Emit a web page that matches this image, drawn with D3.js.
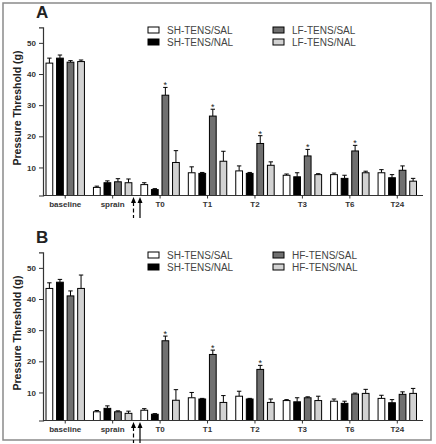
<!DOCTYPE html>
<html>
<head>
<meta charset="utf-8">
<script src="https://cdn.jsdelivr.net/npm/d3@7"></script>
<style>
  body { margin: 0; background: #fff; }
  text { font-family: Arial, "Liberation Sans", sans-serif; }
  .tick text, .cat { font-weight: bold; font-size: 8px; fill: #333; }
  .legend text { font-family: "Liberation Sans Narrow", "Arial Narrow", sans-serif; font-size: 10px; fill: #444; }
</style>
</head>
<body>
<div id="chart-area"></div>
<script>

// Chart data
var categories = ["baseline", "sprain", "T0", "T1", "T2", "T3", "T6", "T24"];
var yTicks = [10, 20, 30, 40, 50];

var seriesA = ["SH-TENS/SAL", "SH-TENS/NAL", "LF-TENS/SAL", "LF-TENS/NAL"];
var seriesB = ["SH-TENS/SAL", "SH-TENS/NAL", "HF-TENS/SAL", "HF-TENS/NAL"];
var fills = ["#ffffff", "#000000", "#707070", "#d2d2d2"];

// Panel A means and errors (one array per series)
var a_shSal = [43.5, 3.6, 4.5, 8.3, 8.9, 7.5, 7.7, 8.3];
var a_shNal = [45.1, 5.1, 2.9, 8.1, 8.1, 7.0, 6.5, 6.7];
var a_lfSal = [43.8, 5.4, 33.2, 26.5, 17.7, 13.7, 15.3, 9.1];
var a_lfNal = [44.0, 5.1, 11.6, 12.0, 10.7, 7.7, 8.3, 5.6];
var a_err_shSal = [1.6, 0.4, 0.6, 1.9, 1.6, 0.4, 0.5, 1.0];
var a_err_shNal = [1.0, 0.6, 0.3, 0.3, 0.3, 1.3, 1.0, 1.0];
var a_err_lfSal = [0.5, 1.0, 2.5, 2.2, 2.5, 2.1, 1.8, 1.4];
var a_err_lfNal = [0.5, 1.2, 3.8, 3.2, 1.1, 0.3, 0.5, 0.9];
var a_stars = ["T0", "T1", "T2", "T3", "T6"];

// Panel B means and errors
var b_shSal = [43.4, 3.8, 4.3, 8.3, 8.8, 7.4, 7.2, 8.1];
var b_shNal = [45.4, 4.9, 3.0, 7.9, 7.9, 7.0, 6.5, 6.7];
var b_hfSal = [41.0, 3.8, 26.6, 22.2, 17.4, 8.3, 9.5, 9.4];
var b_hfNal = [43.4, 3.3, 7.5, 6.8, 6.8, 7.4, 9.7, 9.7];
var b_err_shSal = [1.8, 0.4, 0.5, 1.7, 1.6, 0.3, 0.7, 1.0];
var b_err_shNal = [0.9, 0.8, 0.2, 0.2, 0.2, 1.3, 0.7, 1.0];
var b_err_hfSal = [1.6, 0.3, 1.5, 1.4, 1.3, 0.3, 0.3, 0.8];
var b_err_hfNal = [4.3, 0.7, 3.4, 2.2, 1.1, 1.4, 1.3, 1.6];
var b_stars = ["T0", "T1", "T2"];

// SVG size
var width = 436,
    height = 444;

var svg = d3.select("#chart-area").append("svg")
    .attr("width", width)
    .attr("height", height);

// Outer frame
svg.append("rect")
    .attr("x", 3).attr("y", 3)
    .attr("width", 428).attr("height", 437)
    .attr("fill", "none")
    .attr("stroke", "#8a8a8a")
    .attr("stroke-width", 1.5);

// Scales shared by both panels
var x = d3.scaleBand()
    .domain(categories)
    .range([41.5, 421])
    .paddingInner(0.19)
    .paddingOuter(0.095);

var xSub = d3.scaleBand()
    .domain([0, 1, 2, 3])
    .range([0, x.bandwidth()])
    .paddingInner(0.36);

var y = d3.scaleLinear()
    .domain([1, 55])
    .range([195.5, 27.3]);

function drawPanel(offsetY, letter, names, values, errors, stars) {
  var g = svg.append("g").attr("transform", "translate(0," + offsetY + ")");

  // Panel letter
  g.append("text")
      .attr("x", 36).attr("y", 18)
      .style("font-size", "17px")
      .style("font-weight", "bold")
      .attr("fill", "#222")
      .text(letter);

  // Rows of bars
  var rows = [];
  categories.forEach(function(c, i) {
    values.forEach(function(s, k) {
      rows.push({ cat: c, k: k, v: s[i], e: errors[k][i] });
    });
  });

  // Error bars
  var eb = g.selectAll(".err")
      .data(rows)
      .enter().append("g")
      .attr("class", "err")
      .attr("stroke", "#000")
      .attr("stroke-width", 1);
  eb.append("line")
      .attr("x1", function(d) { return x(d.cat) + xSub(d.k) + xSub.bandwidth() / 2; })
      .attr("x2", function(d) { return x(d.cat) + xSub(d.k) + xSub.bandwidth() / 2; })
      .attr("y1", function(d) { return y(d.v); })
      .attr("y2", function(d) { return y(d.v + d.e); });
  eb.append("line")
      .attr("x1", function(d) { return x(d.cat) + xSub(d.k) + xSub.bandwidth() / 2 - 2.2; })
      .attr("x2", function(d) { return x(d.cat) + xSub(d.k) + xSub.bandwidth() / 2 + 2.2; })
      .attr("y1", function(d) { return y(d.v + d.e); })
      .attr("y2", function(d) { return y(d.v + d.e); });

  // Bars
  g.selectAll(".bar")
      .data(rows)
      .enter().append("rect")
      .attr("class", "bar")
      .attr("x", function(d) { return x(d.cat) + xSub(d.k); })
      .attr("width", xSub.bandwidth())
      .attr("y", function(d) { return y(d.v); })
      .attr("height", function(d) { return y(1) - y(d.v); })
      .attr("fill", function(d) { return fills[d.k]; })
      .attr("stroke", "#000")
      .attr("stroke-width", 1);

  // Significance stars on the third series
  g.selectAll(".star")
      .data(rows.filter(function(d) { return d.k === 2 && stars.indexOf(d.cat) >= 0; }))
      .enter().append("text")
      .attr("class", "star")
      .attr("x", function(d) { return x(d.cat) + xSub(d.k) + xSub.bandwidth() / 2; })
      .attr("y", function(d) { return y(d.v + d.e) + 1; })
      .attr("text-anchor", "middle")
      .style("font-size", "9px")
      .attr("fill", "#222")
      .text("*");

  // Y axis
  var yAxis = d3.axisLeft(y).tickValues(yTicks).tickSize(4).tickPadding(3);
  var ya = g.append("g")
      .attr("class", "y axis")
      .attr("transform", "translate(43,0)")
      .call(yAxis);
  ya.select(".domain").attr("stroke", "#333").attr("stroke-width", 1.2);
  ya.selectAll(".tick line").attr("stroke", "#333");

  // X axis
  var xAxis = d3.axisBottom(x).tickSize(3).tickFormat("");
  var xa = g.append("g")
      .attr("class", "x axis")
      .attr("transform", "translate(0," + y(1) + ")")
      .call(xAxis);
  xa.select(".domain").remove();
  xa.selectAll(".tick line").attr("stroke", "#333");
  xa.append("line")
      .attr("x1", 43).attr("x2", 423)
      .attr("stroke", "#333").attr("stroke-width", 1.2);

  g.selectAll(".cat")
      .data(categories)
      .enter().append("text")
      .attr("class", "cat")
      .attr("x", function(d) { return x(d) + x.bandwidth() / 2; })
      .attr("y", 206.5)
      .attr("text-anchor", "middle")
      .text(function(d) { return d; });

  // Y axis title
  g.append("text")
      .attr("transform", "translate(21,108) rotate(-90)")
      .attr("text-anchor", "middle")
      .style("font-size", "10.5px")
      .style("font-weight", "bold")
      .attr("fill", "#222")
      .text("Pressure Threshold (g)");

  // Arrows marking TENS treatment
  [133.5, 140].forEach(function(ax, i) {
    g.append("path")
        .attr("d", "M" + (ax - 2.5) + ",203 L" + ax + ",197 L" + (ax + 2.5) + ",203 Z")
        .attr("fill", "#000");
    g.append("line")
        .attr("x1", ax).attr("x2", ax)
        .attr("y1", 202).attr("y2", 218)
        .attr("stroke", "#000")
        .attr("stroke-width", 1.2)
        .attr("stroke-dasharray", i === 0 ? "4,2.5" : null);
  });

  // Legend
  var legend = g.append("g").attr("class", "legend");
  var lx = [148, 273], ly = [30, 42];
  names.forEach(function(n, k) {
    var col = k < 2 ? 0 : 1, row = k % 2;
    legend.append("rect")
        .attr("x", lx[col]).attr("y", ly[row] - 3)
        .attr("width", 11).attr("height", 6)
        .attr("fill", fills[k])
        .attr("stroke", "#000")
        .attr("stroke-width", 1);
    legend.append("text")
        .attr("x", lx[col] + 19)
        .attr("y", ly[row] + 3.5)
        .text(n);
  });

  g.selectAll(".y.axis .tick text").attr("class", null)
      .style("font-weight", "bold").style("font-size", "8px").attr("fill", "#333");
}

drawPanel(0, "A", seriesA,
    [a_shSal, a_shNal, a_lfSal, a_lfNal],
    [a_err_shSal, a_err_shNal, a_err_lfSal, a_err_lfNal],
    a_stars);

drawPanel(225, "B", seriesB,
    [b_shSal, b_shNal, b_hfSal, b_hfNal],
    [b_err_shSal, b_err_shNal, b_err_hfSal, b_err_hfNal],
    b_stars);

</script>
</body>
</html>
